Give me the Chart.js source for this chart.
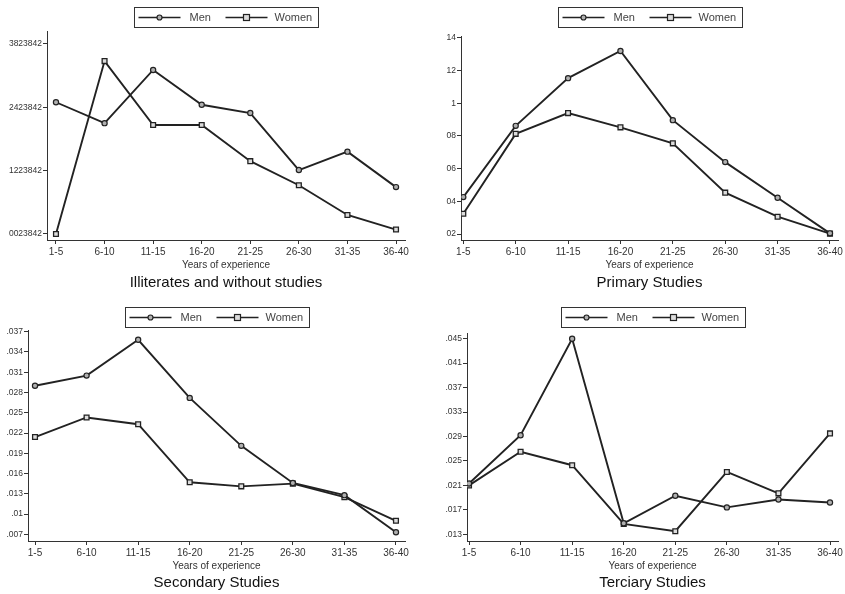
<!DOCTYPE html>
<html>
<head>
<meta charset="utf-8">
<script src="https://cdn.jsdelivr.net/npm/chart.js@4.4.0/dist/chart.umd.min.js"></script>
<style>
  body { margin: 0; background: #fff; }
  .panel { position: absolute; }
</style>
</head>
<body>
<div class="panel" style="left:0;top:0"><canvas id="c1" width="420" height="300"></canvas></div>
<div class="panel" style="left:420px;top:0"><canvas id="c2" width="425" height="300"></canvas></div>
<div class="panel" style="left:0;top:300px"><canvas id="c3" width="420" height="294"></canvas></div>
<div class="panel" style="left:420px;top:300px"><canvas id="c4" width="425" height="294"></canvas></div>
<script>
// categories on the x axis
const categories = ['1-5', '6-10', '11-15', '16-20', '21-25', '26-30', '31-35', '36-40'];

// Illiterates and without studies (values in tick-step units, labels as printed)
const illitMen = [2.08, 1.75, 2.59, 2.04, 1.91, 1.01, 1.30, 0.74];
const illitWomen = [0.00, 2.73, 1.72, 1.72, 1.15, 0.77, 0.30, 0.07];
const illitTicks = [0, 1, 2, 3];
const illitTickLabels = ['0023842', '1223842', '2423842', '3823842'];

// Primary Studies
const primMen = [0.0426, 0.0862, 0.1154, 0.1320, 0.0897, 0.0640, 0.0422, 0.0204];
const primWomen = [0.0324, 0.0813, 0.0940, 0.0853, 0.0755, 0.0453, 0.0306, 0.0202];
const primTicks = [0.02, 0.04, 0.06, 0.08, 0.1, 0.12, 0.14];
const primTickLabels = ['02', '04', '06', '08', '1', '12', '14'];

// Secondary Studies
const secMen = [0.0290, 0.0305, 0.0358, 0.0272, 0.0201, 0.0146, 0.0128, 0.0073];
const secWomen = [0.0214, 0.0243, 0.0233, 0.0147, 0.0141, 0.0145, 0.0125, 0.0090];
const secTicks = [0.007, 0.01, 0.013, 0.016, 0.019, 0.022, 0.025, 0.028, 0.031, 0.034, 0.037];
const secTickLabels = ['.007', '.01', '.013', '.016', '.019', '.022', '.025', '.028', '.031', '.034', '.037'];

// Terciary Studies
const terMen = [0.0213, 0.0292, 0.0450, 0.0148, 0.0193, 0.0174, 0.0187, 0.0182];
const terWomen = [0.0210, 0.0265, 0.0243, 0.0147, 0.0135, 0.0232, 0.0197, 0.0295];
const terTicks = [0.013, 0.017, 0.021, 0.025, 0.029, 0.033, 0.037, 0.041, 0.045];
const terTickLabels = ['.013', '.017', '.021', '.025', '.029', '.033', '.037', '.041', '.045'];

const FONT = "'Liberation Sans', Arial, sans-serif";
const INK = '#222';

// boxed legend drawn above the plot, Stata style
const boxLegend = {
  id: 'boxLegend',
  afterDraw(chart) {
    const ctx = chart.ctx;
    const area = chart.chartArea;
    const w = 184, h = 20;
    const x0 = Math.round((area.left + area.right) / 2 - w / 2) + 0.5;
    const y0 = 7.5;
    const cy = y0 + h / 2;
    ctx.save();
    ctx.strokeStyle = '#333';
    ctx.lineWidth = 1;
    ctx.strokeRect(x0, y0, w, h);
    const items = [{ lx: 4, tx: 55 }, { lx: 91, tx: 140 }];
    chart.data.datasets.forEach((ds, i) => {
      const it = items[i];
      ctx.strokeStyle = INK;
      ctx.lineWidth = 1.6;
      ctx.beginPath();
      ctx.moveTo(x0 + it.lx, cy);
      ctx.lineTo(x0 + it.lx + 42, cy);
      ctx.stroke();
      ctx.lineWidth = 1.2;
      ctx.fillStyle = ds.pointBackgroundColor;
      const mx = x0 + it.lx + 21;
      if (ds.pointStyle === 'rect') {
        ctx.fillRect(mx - 3, cy - 3, 6, 6);
        ctx.strokeRect(mx - 3, cy - 3, 6, 6);
      } else {
        ctx.beginPath();
        ctx.arc(mx, cy, 2.5, 0, Math.PI * 2);
        ctx.fill();
        ctx.stroke();
      }
      ctx.fillStyle = '#444';
      ctx.font = '11px ' + FONT;
      ctx.textBaseline = 'middle';
      ctx.fillText(ds.label, x0 + it.tx, cy + 0.5);
    });
    ctx.restore();
  }
};

function makePanel(id, title, men, women, yTicks, yLabels, geo) {
  const toPoints = arr => arr.map((v, i) => ({ x: i, y: v }));
  new Chart(document.getElementById(id), {
    type: 'line',
    data: {
      datasets: [
        {
          label: 'Men',
          data: toPoints(men),
          borderColor: INK,
          borderWidth: 1.9,
          pointStyle: 'circle',
          pointRadius: 2.6,
          pointBorderWidth: 1.2,
          pointBorderColor: INK,
          pointBackgroundColor: '#b0b0b0',
          tension: 0
        },
        {
          label: 'Women',
          data: toPoints(women),
          borderColor: INK,
          borderWidth: 1.9,
          pointStyle: 'rect',
          pointRadius: 3.4,
          pointBorderWidth: 1.3,
          pointBorderColor: INK,
          pointBackgroundColor: '#dcdcdc',
          tension: 0
        }
      ]
    },
    options: {
      responsive: false,
      animation: false,
      layout: {
        padding: { left: 0, top: geo.top, right: geo.right, bottom: 0 }
      },
      plugins: {
        legend: { display: false },
        tooltip: { enabled: false },
        title: {
          display: true,
          text: title,
          position: 'bottom',
          fullSize: false,
          color: '#111',
          font: { family: FONT, size: 15, weight: 'normal' },
          padding: geo.titlePad
        }
      },
      scales: {
        x: {
          type: 'linear',
          min: geo.xMin,
          max: geo.xMax,
          afterBuildTicks: s => { s.ticks = categories.map((c, i) => ({ value: i })); },
          afterFit: s => { s.height = 31; },
          grid: { drawOnChartArea: false, drawTicks: true, tickLength: 4, color: '#333' },
          border: { display: true, color: '#333', width: 1 },
          ticks: {
            padding: 2,
            color: '#333',
            font: { family: FONT, size: 10 },
            maxRotation: 0,
            autoSkip: false,
            callback: v => categories[v]
          },
          title: {
            display: true,
            text: 'Years of experience',
            color: '#333',
            font: { family: FONT, size: 10 },
            padding: { top: 0, bottom: 0 }
          }
        },
        y: {
          min: geo.yMin,
          max: geo.yMax,
          afterBuildTicks: s => { s.ticks = yTicks.map(v => ({ value: v })); },
          afterFit: s => { s.width = geo.left; },
          grid: { drawOnChartArea: false, drawTicks: true, tickLength: 4, color: '#333' },
          border: { display: true, color: '#333', width: 1 },
          ticks: {
            padding: 1,
            color: '#333',
            font: { family: FONT, size: 8.5 },
            autoSkip: false,
            callback: (v, i) => yLabels[i]
          }
        }
      }
    },
    plugins: [boxLegend]
  });
}

makePanel('c1', 'Illiterates and without studies', illitMen, illitWomen, illitTicks, illitTickLabels,
  { left: 47, top: 31, right: 15, xMin: -0.185, xMax: 7.185, yMin: -0.095, yMax: 3.205,
    titlePad: { top: 3, bottom: 8 } });
makePanel('c2', 'Primary Studies', primMen, primWomen, primTicks, primTickLabels,
  { left: 41, top: 36, right: 7, xMin: -0.044, xMax: 7.153, yMin: 0.01633, yMax: 0.1412,
    titlePad: { top: 3, bottom: 8 } });
makePanel('c3', 'Secondary Studies', secMen, secWomen, secTicks, secTickLabels,
  { left: 28, top: 30, right: 15, xMin: -0.136, xMax: 7.175, yMin: 0.00601, yMax: 0.03725,
    titlePad: { top: 2, bottom: 2 } });
makePanel('c4', 'Terciary Studies', terMen, terWomen, terTicks, terTickLabels,
  { left: 47, top: 33, right: 7, xMin: -0.039, xMax: 7.155, yMin: 0.0119, yMax: 0.04593,
    titlePad: { top: 2, bottom: 2 } });
</script>
</body>
</html>
